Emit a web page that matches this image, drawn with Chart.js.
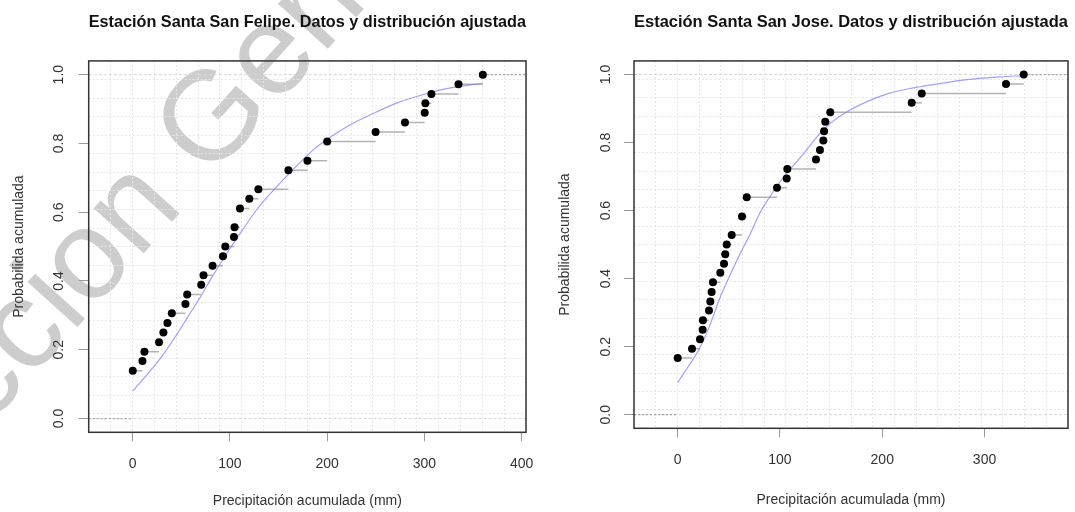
<!DOCTYPE html>
<html>
<head>
<meta charset="utf-8">
<script src="https://cdn.jsdelivr.net/npm/chart.js@4.4.0/dist/chart.umd.min.js"></script>
<style>
html,body{margin:0;padding:0;background:#fff;}
#wrap{position:relative;width:1075px;height:512px;overflow:hidden;background:#fff;}
.box{position:absolute;top:0;height:512px;}
canvas{display:block;}
</style>
</head>
<body>
<div id="wrap">
  <div class="box" style="left:0;width:540px"><canvas id="c1" width="540" height="512"></canvas></div>
  <div class="box" style="left:540px;width:535px"><canvas id="c2" width="535" height="512"></canvas></div>
</div>
<script>
// ---------- data ----------
const felipeTitle = 'Estación Santa San Felipe. Datos y distribución ajustada';
const joseTitle = 'Estación Santa San Jose. Datos y distribución ajustada';
const xLabel = 'Precipitación acumulada (mm)';
const yLabel = 'Probabilida acumulada';

// empirical cumulative probabilities
const felipeX = [0, 10, 12, 27, 31.5, 35.7, 40.2, 54.2, 56, 70.4, 72.8, 82.1, 92.8, 95.2, 104.1, 104.7, 110.3, 119.9, 129.2, 160.1, 179.7, 200, 249.8, 280, 300.3, 301, 307.2, 335.1, 360.1];
const felipeP = [0.139, 0.167, 0.194, 0.222, 0.25, 0.278, 0.306, 0.333, 0.361, 0.389, 0.417, 0.444, 0.472, 0.5, 0.528, 0.556, 0.611, 0.639, 0.667, 0.722, 0.75, 0.806, 0.833, 0.861, 0.889, 0.917, 0.944, 0.972, 1.0];
// fitted distribution curve
const felipeFitX = [0, 16, 30, 44, 57, 71, 81, 95, 112, 129, 147, 163, 174, 186, 200, 221, 245, 272, 300, 324, 360];
const felipeFitP = [0.080, 0.132, 0.181, 0.239, 0.297, 0.360, 0.409, 0.472, 0.545, 0.613, 0.671, 0.719, 0.750, 0.782, 0.812, 0.850, 0.884, 0.918, 0.943, 0.960, 0.975];

const joseX = [0, 14, 21.8, 24.4, 24.7, 30.6, 31.9, 33.2, 34.5, 41.7, 45.3, 46.5, 47.9, 52.8, 62.9, 67.5, 97.1, 106.6, 107.2, 135.2, 139.1, 142.4, 143.1, 144.3, 149.2, 228.8, 238.6, 321, 338.3];
const joseP = [0.167, 0.194, 0.222, 0.25, 0.278, 0.306, 0.333, 0.361, 0.389, 0.417, 0.444, 0.472, 0.5, 0.528, 0.583, 0.639, 0.667, 0.694, 0.722, 0.75, 0.778, 0.806, 0.833, 0.861, 0.889, 0.917, 0.944, 0.972, 1.0];
const joseFitX = [0, 12, 22, 32, 41, 51, 61, 71, 80, 90, 100, 110, 123, 136, 149, 168, 188, 208, 227, 237, 283, 315, 339];
const joseFitP = [0.095, 0.149, 0.198, 0.267, 0.341, 0.409, 0.473, 0.532, 0.591, 0.640, 0.684, 0.722, 0.767, 0.816, 0.856, 0.895, 0.924, 0.946, 0.959, 0.964, 0.985, 0.993, 0.997];

const felipeXTicks = [0, 100, 200, 300, 400];
const joseXTicks = [0, 100, 200, 300];
const yTicks = [0, 0.2, 0.4, 0.6, 0.8, 1.0];

// ---------- styling ----------
const FONT = "'Liberation Sans', Arial, Helvetica, sans-serif";
const GRID = '#e6e6e6';
const TICKC = '#9a9a9a';

function gridValues(min, max, n) {
  const v = [];
  for (let i = 0; i <= n; i++) v.push({ value: min + (max - min) * i / n });
  return v;
}
function pts(xs, ys) { return xs.map((x, i) => ({ x: x, y: ys[i] })); }
function stepSegments(xs, ps) {
  const out = [];
  for (let i = 0; i < xs.length - 1; i++) {
    out.push({ x: xs[i], y: ps[i] }, { x: xs[i + 1], y: ps[i] }, { x: xs[i + 1], y: null });
  }
  return out;
}

const boxPlugin = {
  id: 'box',
  afterDraw(chart) {
    const a = chart.chartArea, ctx = chart.ctx;
    ctx.save();
    ctx.strokeStyle = '#333';
    ctx.lineWidth = 1.5;
    ctx.strokeRect(a.left, a.top, a.right - a.left, a.bottom - a.top);
    ctx.restore();
  }
};

const WM_PREFIX = 'Direccion ';
const WM_REST = 'General';
const watermarkPlugin = {
  id: 'wm',
  beforeDraw(chart) {
    const ctx = chart.ctx;
    const F = 127;
    ctx.save();
    ctx.font = F + 'px ' + FONT;
    ctx.fillStyle = '#cdcdcd';
    ctx.translate(208, 114);
    ctx.rotate(-48 * Math.PI / 180);
    const pre = ctx.measureText(WM_PREFIX).width;
    const g = ctx.measureText('G').width;
    ctx.textBaseline = 'alphabetic';
    ctx.fillText(WM_PREFIX + WM_REST, -(pre + g / 2), 0.358 * F);
    ctx.restore();
  }
};

function makeChart(canvas, o) {
  const n = o.xs.length;
  const yMin = -0.04, yMax = 1.04;
  return new Chart(canvas, {
    type: 'scatter',
    data: {
      datasets: [
        { type: 'scatter', data: pts(o.xs, o.ps), xAxisID: 'x', yAxisID: 'y',
          pointRadius: 4, pointBackgroundColor: '#000', pointBorderColor: '#000', pointBorderWidth: 0, order: 0 },
        { type: 'line', data: pts(o.fx, o.fp), xAxisID: 'x', yAxisID: 'y',
          borderColor: 'rgba(120,120,255,0.7)', borderWidth: 1.2, pointRadius: 0,
          cubicInterpolationMode: 'monotone', fill: false, order: 1 },
        { type: 'line', data: stepSegments(o.xs, o.ps), xAxisID: 'x', yAxisID: 'y',
          borderColor: '#b3b3b3', borderWidth: 1.5, pointRadius: 0, spanGaps: false, fill: false, order: 2 },
        { type: 'line', data: [{ x: o.xMin, y: 0 }, { x: o.xs[0], y: 0 }, { x: o.xs[0], y: null }, { x: o.xs[n - 1], y: 1 }, { x: o.xMax, y: 1 }],
          xAxisID: 'x', yAxisID: 'y', borderColor: '#a8a8a8', borderWidth: 1.2, borderDash: [2, 2],
          pointRadius: 0, spanGaps: false, fill: false, order: 3 },
        { type: 'line', data: [{ x: o.xMin, y: 0 }, { x: o.xMax, y: 0 }, { x: o.xMax, y: null }, { x: o.xMin, y: 1 }, { x: o.xMax, y: 1 }],
          xAxisID: 'x', yAxisID: 'y', borderColor: '#d6d6d6', borderWidth: 1, borderDash: [3, 2],
          pointRadius: 0, spanGaps: false, fill: false, order: 4 }
      ]
    },
    options: {
      responsive: false,
      animation: false,
      events: [],
      layout: { padding: { left: 0, right: o.padRight, top: 0, bottom: 0 } },
      plugins: {
        legend: { display: false },
        tooltip: { enabled: false },
        title: { display: true, text: o.title, color: '#111', fullSize: false,
          font: { family: FONT, size: 16.6, weight: 'bold' }, padding: { top: 12, bottom: 29 } }
      },
      scales: {
        x: {
          type: 'linear', position: 'bottom', min: o.xMin, max: o.xMax,
          afterBuildTicks: s => { s.ticks = o.xTicks.map(v => ({ value: v })); },
          afterFit: s => { s.height = o.xAxisH; s.paddingLeft = 0; s.paddingRight = 0; s.paddingTop = 0; s.paddingBottom = 0; },
          grid: { drawOnChartArea: false, drawTicks: true, tickLength: 9, color: TICKC, lineWidth: 1 },
          border: { display: false },
          ticks: { color: '#333', font: { family: FONT, size: 14 }, padding: o.xTickPad, maxRotation: 0, minRotation: 0, autoSkip: false },
          title: { display: true, text: xLabel, color: '#333', font: { family: FONT, size: 14 }, padding: { top: 0, bottom: o.xTitlePad } }
        },
        y: {
          type: 'linear', position: 'left', min: yMin, max: yMax,
          afterBuildTicks: s => { s.ticks = yTicks.map(v => ({ value: v })); },
          afterFit: s => { s.width = o.yAxisW; s.paddingLeft = 0; s.paddingRight = 0; s.paddingTop = 0; s.paddingBottom = 0; },
          grid: { drawOnChartArea: false, drawTicks: true, tickLength: 10, color: TICKC, lineWidth: 1 },
          border: { display: false },
          ticks: { color: '#333', font: { family: FONT, size: 14 }, padding: o.yTickPad, minRotation: 90, maxRotation: 90,
            crossAlign: 'center', autoSkip: false, callback: v => Number(v).toFixed(1) },
          title: { display: true, text: yLabel, color: '#333', font: { family: FONT, size: 14 }, padding: { top: o.yTitlePad, bottom: 0 } }
        },
        xt: {
          type: 'linear', position: 'top', min: o.xMin, max: o.xMax,
          afterBuildTicks: s => { s.ticks = gridValues(o.xMin, o.xMax, 20); },
          afterFit: s => { s.height = 0; s.paddingLeft = 0; s.paddingRight = 0; },
          grid: { drawOnChartArea: true, drawTicks: false, color: GRID, lineWidth: 1 },
          border: { display: false, dash: [2, 2] },
          ticks: { display: false }
        },
        yr: {
          type: 'linear', position: 'right', min: yMin, max: yMax,
          afterBuildTicks: s => { s.ticks = gridValues(yMin, yMax, 20); },
          afterFit: s => { s.width = 0; s.paddingTop = 0; s.paddingBottom = 0; },
          grid: { drawOnChartArea: true, drawTicks: false, color: GRID, lineWidth: 1 },
          border: { display: false, dash: [2, 2] },
          ticks: { display: false }
        }
      }
    },
    plugins: o.watermark ? [watermarkPlugin, boxPlugin] : [boxPlugin]
  });
}

makeChart(document.getElementById('c1'), {
  title: felipeTitle, xs: felipeX, ps: felipeP, fx: felipeFitX, fp: felipeFitP,
  xMin: -45.3, xMax: 404.5, xTicks: felipeXTicks,
  yAxisW: 88.7, xAxisH: 79.7, padRight: 14,
  yTickPad: 9.8, yTitlePad: 10.6, xTickPad: 14.3, xTitlePad: 2.6, watermark: true
});
makeChart(document.getElementById('c2'), {
  title: joseTitle, xs: joseX, ps: joseP, fx: joseFitX, fp: joseFitP,
  xMin: -42.7, xMax: 381.6, xTicks: joseXTicks,
  yAxisW: 94, xAxisH: 83.7, padRight: 7,
  yTickPad: 8.5, yTitlePad: 16.6, xTickPad: 14.3, xTitlePad: 3.6, watermark: false
});
</script>
</body>
</html>
